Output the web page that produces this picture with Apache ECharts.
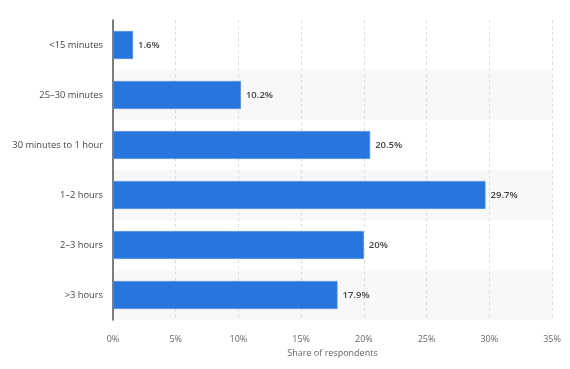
<!DOCTYPE html>
<html><head><meta charset="utf-8">
<script src="https://cdn.jsdelivr.net/npm/echarts@6/dist/echarts.min.js"></script>
<style>html,body{margin:0;padding:0;background:#fff}#c{width:570px;height:369px}</style>
</head><body><div id="c"></div>
<script>
const categories = ['<15 minutes','25–30 minutes','30 minutes to 1 hour','1–2 hours','2–3 hours','>3 hours'];
const values = [1.6, 10.2, 20.5, 29.7, 20, 17.9];
const axisName = 'Share of respondents';
const F = "'Open Sans', 'Noto Sans', sans-serif";
const chart = echarts.init(document.getElementById('c'), null, {renderer:'canvas'});
chart.setOption({
  animation:false,
  grid:{left:113,right:18,top:20,bottom:49},
  xAxis:{type:'value',min:0,max:35,interval:5,
    name:axisName,nameLocation:'middle',nameGap:25,
    nameTextStyle:{fontFamily:F,fontSize:9,color:'#666'},
    axisLabel:{formatter:'{value}%',fontFamily:F,fontSize:9,color:'#666',margin:15},
    axisLine:{show:false},axisTick:{show:false},
    splitLine:{show:true,lineStyle:{color:'#dcdcdc',type:[3,3],width:1}}},
  yAxis:{type:'category',data:categories,inverse:true,
    axisLabel:{fontFamily:F,fontSize:9.3,color:'#444',margin:10},
    axisLine:{show:true,lineStyle:{color:'#555',width:1.5}},
    axisTick:{show:false},
    splitArea:{show:true,areaStyle:{color:['#ffffff','#f8f8f8']}}},
  series:[{type:'bar',data:values,barWidth:28,barCategoryGap:0,
    itemStyle:{color:'#2876dd',borderColor:'#4a8ce6',borderWidth:0.8},
    label:{show:true,position:'right',distance:5,formatter:'{c}%',fontFamily:F,fontSize:9.5,fontWeight:600,color:'#444'}}]
});
</script></body></html>
